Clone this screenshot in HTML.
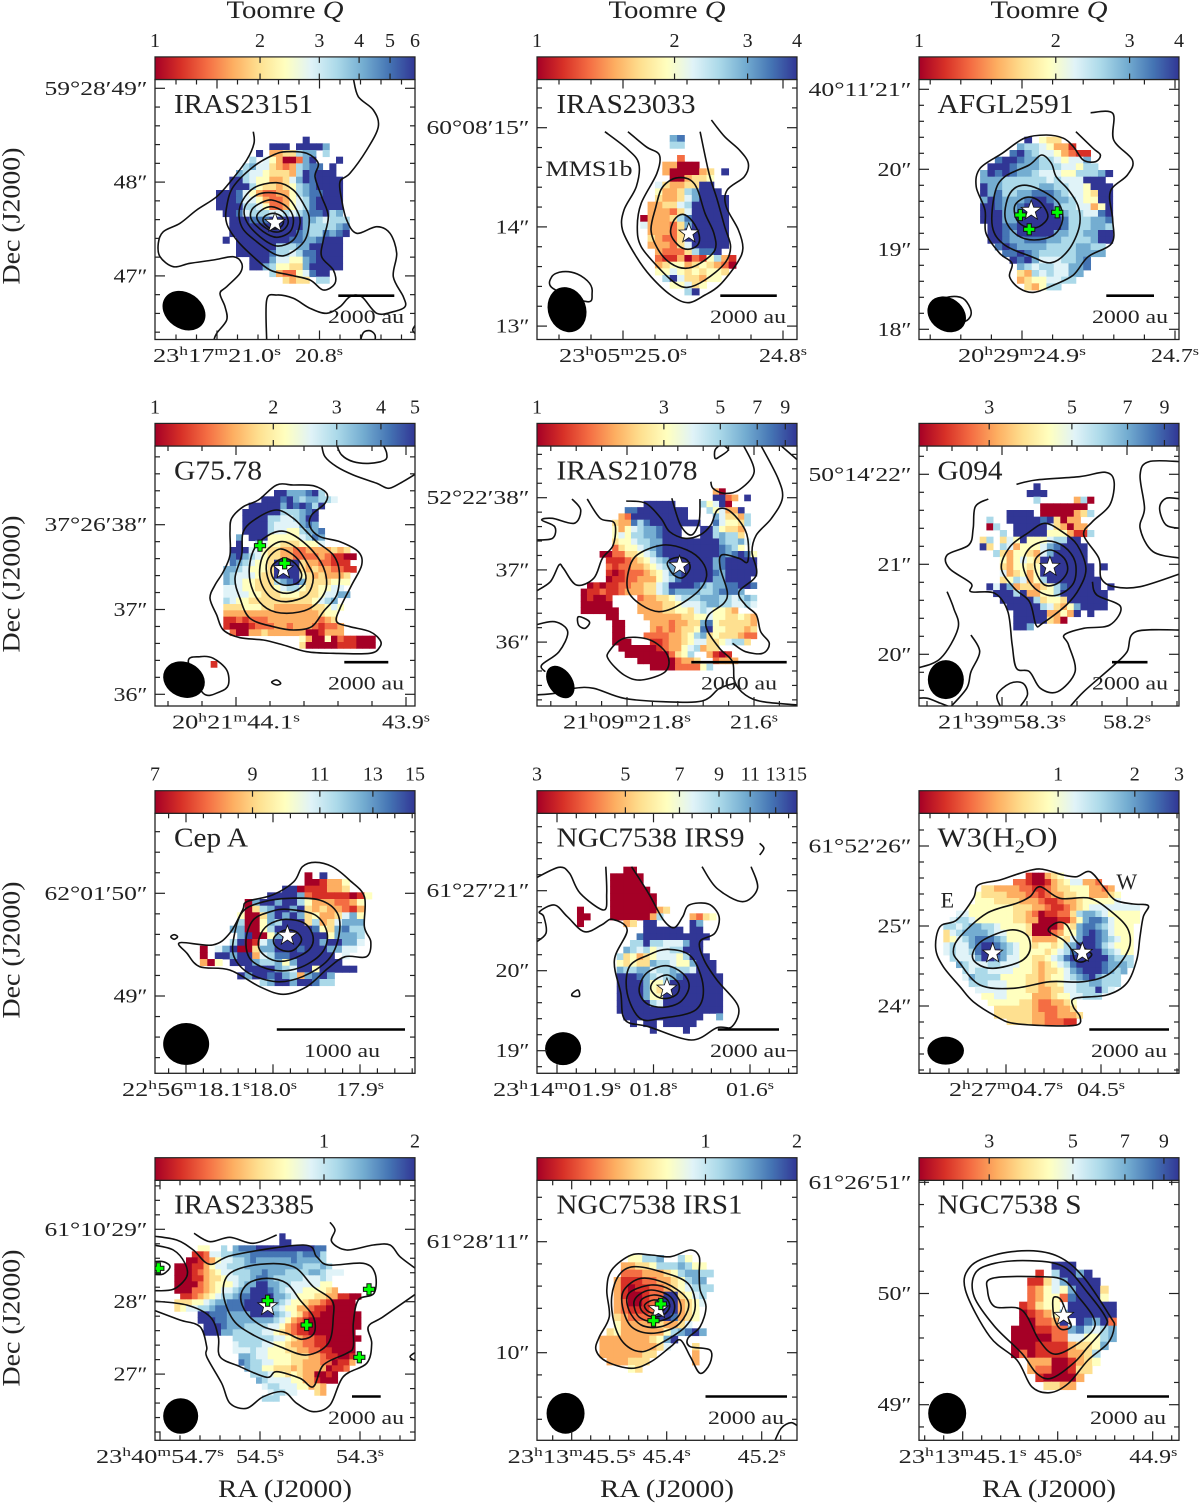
<!DOCTYPE html>
<html lang="en">
<head>
<meta charset="utf-8">
<title>Toomre Q maps</title>
<style>
html,body{margin:0;padding:0;background:#fff;}
svg{display:block;}
text{font-family:"Liberation Serif",serif;fill:#222;}
</style>
</head>
<body>
<svg id="fig" xmlns="http://www.w3.org/2000/svg" width="1200" height="1504" viewBox="0 0 1200 1504">
<defs>
<linearGradient id="rdylbu" x1="0" x2="1" y1="0" y2="0">
<stop offset="0" stop-color="#a50026"/><stop offset=".1" stop-color="#d73027"/><stop offset=".2" stop-color="#f46d43"/><stop offset=".3" stop-color="#fdae61"/><stop offset=".4" stop-color="#fee090"/><stop offset=".5" stop-color="#ffffbf"/><stop offset=".6" stop-color="#e0f3f8"/><stop offset=".7" stop-color="#abd9e9"/><stop offset=".8" stop-color="#74add1"/><stop offset=".9" stop-color="#4575b4"/><stop offset="1" stop-color="#313695"/>
</linearGradient>
</defs>
</svg>
<script>
/* Heatmap values: colour-scale level per map pixel (0=lowest Q ... 9, a=highest, .=no data) */
const iras23151Cells=[
".............a......",
"........aaa.aaaa8...",
"......a.3344788.7...",
".....7.6530028a...a.",
"....786643237899.a..",
"...8766544437a9aaa..",
"..aa765533468a9aaaa.",
"..aaa7544345789aaaa.",
"aaa9653223357899aaa.",
"aaa966532235679aaaa.",
"aaaa77652235679aaaa.",
".aa9677766767899a78.",
"..aaa999aaaaa8876777",
"..aaaaaaaaaaa8777789",
"..aaaaaaaaaa9877989a",
".a.aaaaaaaa99889aaa.",
"...aaaaaa77788aaaaa.",
"...aaaaa9776799aaaa.",
".....aaa8665589aaaa.",
".....aa8755448aaaaa.",
"........7322569aa...",
"..........4344.77..."];
const iras23033Cells=[
".....89",
".....77",
"",
"......2",
"....33000",
"....3000034.a",
".....003445",
"...643344aa",
"...533478aaa",
"...433468aaaa",
"..334467aaaaa",
"..333246aaaaa",
".03334 79aaaaa",
".633324 8aaaaa",
"..33324aaaaaa",
"..43224aaaaaa",
"..333246aaaaa",
"...32224799a",
"...21130215731",
"...34553454320",
"...5565454554",
"....7a64 4355",
".....55645",
".......7a"];
const afgl2591Cells=[
"......a.544",
".....87765331",
"....9a876653211",
"..9aa98877656 68",
".aaa988877766 577",
"8a9a988766655777 8a",
"88877777767666aaa",
"a8877777887766 5aaa",
"a89778899987665 4aa",
"8a98889aa9887655aa",
"aa9889aaaa877663 5a",
"aaa88aaaaa987766 9a",
"aaa88aaaaaa97778 89",
".aa99aaaaaa9777887",
".aa98aaaaa88778 8aa",
".aa98899988777 78aa",
"..9a9888877778877",
"...99a98777778888",
"....a9a8666778 9",
".....87677668 89",
".....43767668 8",
".....34556677",
"......43577"];
const g7578Cells=[
"........aa8889a7",
"......aaa9a878877 6",
"....aaaaa8a9a97a",
"...aaaaaa7778 9a.",
"...aaaa77667 8aa.",
"...aaaa7666689 8",
"...aaaa7665578 89",
"..8.aaa55555679 8.",
"..a..765544455 56",
".aaa665443322 3333 434",
".9a87654433222 2321100",
".9876554 aaaa 43322 111",
"88765554 aaaa 4 3433 2211",
"87666544 aaaa 5 4343 334",
"87655444 789a 84 4 4 4 5 5 5",
"66655444 5677 5 4 4 5 5 6 6",
"6666 5 5 4 4 4 5 5 5 4 4 4 5 6 6 8 8",
"7655 4 4 4 4 4 4 4 4 4 4 5 6 7 8",
"4445 5 5 4 4 3 3 3 3 3 3 4 4 5 6 5",
"3333 3 3 3 3 3 3 3 3 3 3 3 4 5 5",
"1121 2 2 2 3 3 3 3 3 3 3 3 2 3 4",
"1000 1 2 2 2 3 3 2 3 3 3 2 1 2 2 3",
".20033433333300133 3",
"............530050211000",
"............400000111000"];
const iras21078Cells=[
".....................30",
".....................aa23.a",
"..........aaaaa....756a0",
".......99aaaaaaaa...75633a",
"......32aaaaaaaaa....864437",
".....433979aaaaaaaa..965547",
".....53567889aaa...aa75443",
".....56577889aaa...aa78774",
".....45567788aaaaaaaaa87786",
".....24556789aaaaaaaaa9875",
"...0022445679aaaaaaaaa98 9a95",
"....1112345678aaaaaaa89aaaaa",
"....21223345678aaaaaa89aaaaa",
"....101222345689aaaaa98aaaaa",
"....011223335679aaaaa88aaaa",
".01011223344 67aaaa98788 99aa9",
"011211233344 6798888 7789 998",
"01001....233445 6777888 776787",
"00000....3333445666788776676",
"000000...3333445 546765 5 4 3",
"....00....33333344 5 5 6 5 5 4 4 5 4 3",
".....00....3332 3 3 4 4 8 9 5 4 4 4 4 4 3",
".....00....3232 3 4 4 5 9 a 5 5 4 4 4 3 4",
".....00...2222 3 3 4 5 7 8 4 5 4 4 4 3 2 2",
".....000...1123 3 4 5 6 6 4 4 5 6 7 7 4",
"......000000123 3 5 6 7 3 4 4",
".......0000000 2 4 5 7..3101",
".........000000 2 3 3 4..2333",
"...........0000 2 2 2 2 5 7"];
const g094Cells=[
"........a..........",
".......aaa.........",
"........7.....370..",
".........0000000...",
"....aaaa.00000347..",
".7..aaaaa9a40 33...",
".07..aaaaa64303 3..",
"...7.aaaaa555 3117.",
"47.4 65a55 5677aa..",
"a4.7 635556 89aaaa.",
"..74 355436 8aaaaa.",
"...5 35654 aaaaaaa.",
"...4 35545 aaaaaaaa.a",
"...6 34535 aaaaaaaa",
"...4 57635 7aaaaaaaa",
".a6a 83443 4579aaaaa.a",
"..aa a7a33 557aaaaaaa.",
"...a aaaa7 4554aaaaaa.",
"....a aaaa7 64358aaaa.",
".....aaaaa 3353a.a...",
".....aaaaa 430.....",
".....aa8..........."];
const cepACells=[
"..............0.a",
"..............001335",
"...........aa0111334",
".........aaaa82111110 15",
"......08aa8aa7533322 35",
"......0478aa8a434332 13",
".....50048a8a8453346 85",
".....7005 87aaa47 346888",
"....88005 7aaaaa9 548977",
".....8a005 8aaaaaa5 8887",
"....7a016 8aaaaaa8 aa886",
"0.68a004 88aaa9aaa8866",
"0.aa8aa3 6799aaaaaa.6",
"305.aaa8 7785 8aaaaaa",
"......aaaa8 76aa5aaaaa",
".....a8aa9a8 738 9a8",
"........78aa8aa977"];
const ngc7538Irs9Cells=[
"..00",
"00000",
"00000",
"000000",
"0000000",
"0000000",
"000000034",
"00000037....3245",
"..34.aa.....a8",
".....aaaaaa.aa",
"....9aaaaaaaaaa",
"...77a77666 8aa",
"..8767 5667 7aaa",
".74534 56665 7aaa",
".54544 87765 58aaa",
".87788 67787 76aaa",
".aaa98 76789 aaaaaa",
".aaaa8 557aa aaaaaa",
".aaaa8 54aaa aaaaaa",
".aaaa8 55aaa aaaaaa",
".aaaaa 76aaa aaaaaa",
".aaaaa aaaaa aaaaaa",
"..aaaa aaaaa aaa..8",
"...a.a a.aaa aa",
"......a....a"];
const w3h2oCells=[
".............100345",
"...........22100134566332",
"......443333221123445553323",
".....54444333221233445533345",
".....55544443332112334555556",
"....555555544433211234566666666",
"..66555555544320112247887655555",
".67765555554433000113589986 5555",
"776788776555540000254899876 555",
"46788887665554000235589a986555",
"45678999875555333354 68aa98 7655",
"67668 9aa987 655 4554 578aaa 97 6555",
"67667 9aaa87 655 5545 679aaaa 8765 5",
".7666 8aa986 655 4456 79aaaaaa 8777",
"..876 667 766 655 43456 79aaaa9 8887",
"...76 77666 655 5434456 89aaa9 878",
"...68 7777 55554 43455 6789a8 777",
"....777 666 555 44344 5667788777",
".....666 665 5544 33446677 7a76",
"......5566 5555 33345 56 6777",
".......55555 44 32233 45",
"........444444 32223 34",
"........444444 33223 334",
"..........4444 33222 11"];
const iras23385Cells=[
"..................a",
"..................aa",
"....55..7.8999aaaa aaaaaa99",
"...1126 67788 8999 999998999 7",
"..00123 56677 8988 88889888 87",
"00011356 677 7888 8888888 7778 7",
"00012345 667 7788 9888 7777887 666",
"00011344 566 7789 987777 7 666 76",
"00002345 556 788aa 887766 66655",
"00022345 667 88aaa 987666 555543",
".11234567 78 99aaaa 8876 555 44331100",
"44455678 89 99aaaa 887 65 54332100 00",
"45667789 99 99aaaa 876 55 33211000 00",
"....aa99 98 888aaaa 8765 42110000000",
"....aaa 9988 8888 887653 21000000000",
".....aaa 988 8777 766532 11000000000",
".....aaa 88 7777 766543 21100000000",
"..........7777 7776654 32211000000",
"..........677 7766554 33221100000",
"..........666 766555 443322110000",
"...........887 665 555 44433211001",
"...........987 766 555 44333220113",
"............877 55 4443 433330112",
".............7776 55 454 3300 10",
"..............876 6665 5331000",
"...............677 6665 53 43",
"................677 66...43",
"...............777"];
const ngc7538Irs1Cells=[
"....5577 8..75",
"...3344 57778755",
"...2223 334 5788 77",
"..31112 233 457 88",
"..3101 1223 456 777",
"..3100 12 2aa 4567",
"..3200 12 aaa 3456",
"..3211 12 aaa 345",
"..4322 22 aa9 345",
"..5333 33 433 46",
".4533 33 335 789a8",
"33333 33 458a",
"33333 33 346...4",
"33333 344.....3",
".3334 44......3",
"....54"];
const ngc7538SCells=[
".....aaa",
"...1.7aa8a",
"..11468aaaa",
"..235658aaa4",
"..235529aaa5",
".12455.aaaaaa",
".012358aaaaaa",
".00223a.a98a2",
"00011 228976 78",
"00000 226655 78",
"00011 113445 8",
"02011 11334 7",
"..33300 1345",
"..32200 144",
"...10000 3",
"....4433"];
/* Continuum contours: map-coordinate vertex lists */
const iras23151Closed=[
[860,455,920,460,955,490,945,530,965,590,985,650,970,720,965,770,1000,810,1005,850,970,870,930,840,870,825,810,810,760,770,710,720,680,670,680,620,700,560,760,500,820,465],
[830,548,880,570,915,620,928,660,915,720,870,760,830,765,770,725,725,680,720,620,760,565],
[815,578,860,590,890,630,900,670,880,720,830,738,780,710,740,665,735,620,770,585],
[815,600,860,620,880,655,870,695,830,712,790,695,755,660,755,630,780,610],
[815,620,850,635,865,665,850,690,820,695,785,675,770,650,785,630],
[820,640,845,650,850,670,835,685,810,685,790,665,795,648],
[1085,1025,1090,998,1110,992,1125,1005,1120,1025]];
const iras23151Open=[
[760,395,762,430,740,480,695,540,650,590,590,630,540,670,490,695,475,730,480,770,520,800,570,790,640,780,700,770,725,790,720,820,680,860,660,880,675,920,680,960,650,1000,640,1025],
[800,1025,800,900,830,885,880,895,930,925,980,940,1020,920,1050,890,1085,890,1130,940,1180,935,1215,920,1210,890,1180,830,1190,760,1170,700,1130,680,1070,700,1040,660,1025,600,1020,545,1050,520,1100,450,1135,380,1120,330,1075,290,1060,235],
[1250,970,1238,990,1250,1005]];
const iras23033Closed=[
[505,533,530,540,545,570,560,640,578,700,580,750,550,790,520,805,490,790,465,750,450,690,460,620,470,570,485,545],
[515,643,535,665,548,705,545,735,525,748,505,735,490,700,497,660],
[250,865,248,830,270,815,300,822,325,850,330,880,320,905]];
const iras23033Open=[
[356,395,400,445,425,490,420,560,395,630,392,690,420,770,450,830,490,885,525,908,560,885,590,855,625,790,637,745,628,690,603,620,605,570,640,530,648,490,630,450,600,410,573,360],
[403,395,440,440,467,465,462,520,430,610,422,680,430,740,470,810,500,850,525,862,560,840,600,790,612,740,600,680,585,600,568,520,550,395]];
const afgl2591Closed=[
[1245,465,1265,490,1275,530,1300,570,1320,620,1322,680,1300,750,1265,788,1225,770,1170,735,1145,680,1150,580,1170,530,1220,495],
[1215,556,1250,575,1280,610,1288,660,1270,705,1230,720,1195,705,1172,660,1175,600,1190,565],
[1225,592,1245,610,1258,650,1240,680,1215,682,1195,660,1190,620,1205,597],
[1060,890,1085,895,1100,925,1100,950,1085,965,1050,950,1040,905]];
const afgl2591Open=[
[1345,338,1390,340,1392,420,1430,480,1420,525,1385,575,1390,660,1388,730,1340,770,1310,825,1270,855,1230,877,1200,865,1180,830,1185,790,1160,760,1132,700,1130,630,1112,560,1120,505,1165,460,1210,415,1255,405,1290,415,1310,440,1330,480,1355,485,1365,465,1350,445,1315,395]];
const g7578Closed=[
[775,315,730,335,695,370,690,410,690,480,670,530,645,570,630,610,650,660,670,705,720,728,790,735,850,750,920,770,1000,775,1110,775,1140,755,1140,735,1110,710,1050,695,1010,680,1020,640,1055,570,1085,510,1075,470,1020,440,960,425,930,395,935,360,975,325,980,295,940,272,880,270,830,270],
[830,345,880,370,915,405,950,440,1000,480,1018,530,1010,600,970,650,935,695,880,705,820,695,750,670,720,610,705,550,725,480,730,410,770,370],
[830,410,880,420,940,470,975,530,975,590,930,640,860,655,800,640,760,590,748,520,770,450],
[840,440,890,460,925,510,940,550,920,600,860,620,810,605,780,550,790,480],
[840,462,880,480,905,510,918,550,900,580,860,595,820,580,800,535,805,490],
[850,490,885,505,905,540,890,565,850,570,820,550,815,515],
[565,800,600,785,640,790,680,825,685,870,660,890,610,895],
[815,862,830,855,842,865,830,870]];
const g7578Open=[
[965,150,975,185,1010,215,1060,240,1130,265,1165,280,1200,265,1250,235],
[1010,150,1025,180,1060,200,1110,205,1155,195,1160,175,1150,150]];
const iras21078Closed=[
[330,450,385,465,420,500,430,545,410,590,360,635,320,650,280,630,250,590,250,530,270,480],
[365,487,385,495,392,520,375,548,355,540,340,510,345,495],
[240,730,300,735,340,780,335,830,280,855,240,840,205,795,205,770],
[135,665,160,680,150,700,135,690],
[460,185,480,165,465,150,450,165,450,190]];
const iras21078Open=[
[245,318,290,325,325,370,345,410,380,430,415,420,440,390,455,345,480,345,510,385,525,430,525,500,505,490,465,480,462,520,478,590,470,625,435,660,430,700,460,760,490,800,495,860,520,900,560,920,640,930],
[515,150,540,230,505,285,470,295,445,280,440,260],
[555,150,595,250,605,310,580,370,545,420,535,470,545,540,505,590,520,630,545,660,555,710,575,745,560,775,520,770,490,745],
[35,435,75,430,80,395,50,375,75,370,125,385,140,345,120,312],
[155,312,185,370,218,385,215,450,190,490,170,550,130,570,100,520,90,510,70,560,35,590],
[35,690,80,680,110,710,90,770,50,810,58,830],
[350,310,370,390,395,420,413,380,415,312],
[35,900,80,895,125,880,170,880,240,910,330,920,420,918,460,880,495,865],
[600,150,640,195]];
const g094Closed=[
[1210,385,1250,410,1285,450,1305,520,1290,580,1260,630,1205,685,1190,690,1175,620,1140,580,1110,520,1130,455,1170,415],
[1215,438,1255,455,1280,500,1278,560,1250,595,1215,600,1180,570,1160,510,1175,460],
[1222,465,1255,490,1262,530,1240,565,1210,570,1190,530,1190,490]];
const g094Open=[
[1145,268,1190,255,1290,245,1350,232,1370,260,1360,330,1320,380,1300,420,1335,490,1340,550,1370,575,1430,575,1525,535],
[1080,312,1050,335,1045,400,1035,450,985,480,990,520,1040,565,1040,590,1095,595,1125,650,1135,750,1145,820,1175,830,1200,880,1240,890,1280,830,1265,750,1255,720,1300,700,1360,690,1385,635,1330,600,1320,560],
[1525,200,1450,200,1430,240,1440,340,1430,400,1460,470,1525,490],
[1525,312,1490,310,1475,340,1490,390,1525,400],
[915,820,970,790,1010,700,1000,640,985,590],
[1525,705,1420,710,1400,770,1370,810,1300,890,1265,940],
[1110,940,1100,900,1130,865,1160,865,1170,900,1150,940],
[915,910,940,910,970,925,1000,940],
[1040,720,1060,770,1040,830,1030,880,990,940]];
const cepAClosed=[
[410,307,450,320,490,360,525,410,525,500,540,545,530,590,480,590,440,625,390,680,335,703,280,680,210,630,140,620,110,580,93,548,170,555,210,520,240,450,250,425,310,405,360,365,380,320],
[350,415,420,420,462,460,465,530,440,600,380,650,320,665,255,640,220,590,220,530,240,455,290,425],
[345,448,410,465,438,520,425,580,370,625,310,630,260,600,248,540,265,480,305,455],
[340,478,385,490,405,530,395,570,350,600,310,600,280,570,280,530,300,495],
[340,510,365,515,378,540,360,570,335,572,315,555,315,530],
[72,530,80,524,88,530,80,538]];
const cepAOpen=[];
const ngc7538Irs9Closed=[
[1235,568,1290,590,1318,680,1300,750,1220,775,1170,775,1140,700,1145,620,1190,585],
[1230,617,1270,640,1285,680,1265,725,1225,742,1185,730,1168,690,1185,640],
[1235,645,1260,670,1258,700,1235,715,1210,710,1195,685,1205,660],
[1012,700,1025,690,1028,708,1012,708]];
const ngc7538Irs9Open=[
[925,355,980,322,1005,340,1030,400,1085,450,1092,400,1090,320],
[1150,320,1190,400,1225,480,1250,503,1270,470,1285,435,1330,432,1355,470,1345,520,1310,545,1320,600,1350,660,1400,740,1385,800,1350,803,1290,840,1190,800,1135,780,1125,700,1110,600,1140,510,1105,478,1080,495,1040,515,1000,470,970,435,935,455,945,470,950,520,925,548],
[1315,320,1350,385,1410,425,1445,385,1430,320],
[1450,250,1460,265,1450,285]];
const w3h2oClosed=[
[720,327,790,345,830,350,870,335,910,380,945,420,1000,432,1045,437,1030,470,1020,530,1010,600,980,670,920,705,825,715,820,740,840,770,830,795,740,797,640,790,590,770,520,725,480,680,430,620,407,565,420,500,470,480,520,415,535,375,600,360,660,340],
[720,380,780,415,870,415,940,460,985,510,985,570,930,640,850,665,750,665,640,685,540,675,480,610,460,575,480,530,560,460,650,430,690,410],
[630,510,680,525,690,570,660,605,580,625,530,610,518,580,550,540],
[770,488,800,495,825,540,860,570,875,585,850,605,825,600,815,570,790,540,745,512]];
const w3h2oOpen=[];
const iras23385Closed=[
[780,403,880,410,940,470,995,510,1000,560,985,640,920,675,840,650,760,615,700,570,670,490,690,430],
[800,445,860,460,900,510,940,560,942,610,905,628,860,610,790,590,740,550,722,500,745,460]];
const iras23385Open=[
[582,310,630,335,690,322,760,340,830,315],
[990,277,1005,300,995,335,1040,360,1120,345,1170,345,1200,380,1250,418],
[460,318,530,330,580,360,630,403,700,375,910,345,950,380,985,405,1090,400,1125,430,1122,490,1075,510,1060,580,1060,650,1040,670,970,705,940,770,900,745,830,725,800,742,720,710,660,680,655,620,630,560,560,525,460,513],
[460,540,540,570,600,590,620,650,620,680,665,760,690,820,740,835,790,800,850,785,890,820,940,845,990,825,1030,740,1100,700,1115,640,1105,590,1150,560,1250,490],
[460,345,520,360,555,400,560,440,520,478,460,482],
[460,395,490,395,510,410,490,432,460,433],
[1250,665,1230,680,1250,695]];
const ngc7538Irs1Closed=[
[410,375,450,375,490,380,530,360,548,380,548,430,550,480,562,530,550,590,525,625,530,650,570,660,570,700,550,730,530,680,510,630,490,650,450,695,410,715,360,695,338,660,345,620,365,560,360,480,370,420],
[415,410,470,425,525,460,540,530,520,590,470,640,430,665,395,640,375,580,370,500,385,435],
[430,445,480,460,520,500,525,540,500,590,450,610,410,590,392,530,395,480],
[450,465,490,480,510,520,505,560,470,590,430,585,405,540,405,490],
[450,480,485,495,498,525,490,560,455,575,425,560,415,520,425,495],
[455,495,480,505,488,530,475,555,450,560,430,540,430,510],
[455,510,475,518,478,535,465,550,445,545,437,525]];
const ngc7538Irs1Open=[
[700,940,715,895,735,878,750,890]];
const ngc7538SClosed=[
[1220,362,1280,380,1330,440,1385,560,1393,590,1380,640,1340,690,1300,760,1262,788,1225,770,1195,690,1140,620,1090,480,1100,410,1150,375],
[1220,392,1290,410,1340,490,1375,560,1375,590,1340,650,1310,700,1265,745,1235,730,1205,670,1150,590,1108,500,1110,430,1150,400],
[1240,440,1290,450,1320,500,1350,560,1350,600,1310,650,1270,672,1240,630,1205,540,1150,530,1135,480,1145,445],
[1270,502,1285,510,1298,560,1305,590,1285,598,1272,570,1268,530]];
const ngc7538SOpen=[];
/* Colour-bar tick labels and their fractional positions along each bar */
const cbarValues1=[1,2,3,4,5,6];      const cbarFrac1=[0,.404,.632,.785,.904,1];
const cbarValues2=[1,2,3,4];          const cbarFrac2=[0,.529,.81,1];
const cbarValues3=[1,2,3,4];          const cbarFrac3=[0,.526,.81,1];
const cbarValues4=[1,2,3,4,5];        const cbarFrac4=[0,.455,.699,.869,1];
const cbarValues5=[1,3,5,7,9];        const cbarFrac5=[0,.488,.705,.847,.955];
const cbarValues6=[3,5,7,9];          const cbarFrac6=[.27,.588,.802,.944];
const cbarValues7=[7,9,11,13,15];     const cbarFrac7=[0,.375,.634,.838,1];
const cbarValues8=[3,5,7,9,11,13,15]; const cbarFrac8=[0,.34,.548,.7,.82,.918,1];
const cbarValues9=[1,2,3];            const cbarFrac9=[.535,.83,1];
const cbarValues10=[1,2];             const cbarFrac10=[.65,1];
const cbarValues11=[1,2];             const cbarFrac11=[.648,1];
const cbarValues12=[3,5,7,9];         const cbarFrac12=[.27,.592,.792,.942];
/* Axis tick values / labels */
const raValues1=[21.0,20.8];       const raLabels1=["23^h17^m21.0^s","20.8^s"];
const raValues2=[25.0,24.8];       const raLabels2=["23^h05^m25.0^s","24.8^s"];
const raValues3=[24.9,24.7];       const raLabels3=["20^h29^m24.9^s","24.7^s"];
const raValues4=[44.1,43.9];       const raLabels4=["20^h21^m44.1^s","43.9^s"];
const raValues5=[21.8,21.6];       const raLabels5=["21^h09^m21.8^s","21.6^s"];
const raValues6=[58.3,58.2];       const raLabels6=["21^h39^m58.3^s","58.2^s"];
const raValues7=[18.1,18.0,17.9];  const raLabels7=["22^h56^m18.1^s","18.0^s","17.9^s"];
const raValues8=[1.9,1.8,1.7];     const raLabels8=["23^h14^m01.9^s","01.8^s","01.6^s"];
const raValues9=[4.7,4.5];         const raLabels9=["2^h27^m04.7^s","04.5^s"];
const raValues10=[54.7,54.5,54.3]; const raLabels10=["23^h40^m54.7^s","54.5^s","54.3^s"];
const raValues11=[45.5,45.4,45.3]; const raLabels11=["23^h13^m45.5^s","45.4^s","45.2^s"];
const raValues12=[45.1,45.0,44.9]; const raLabels12=["23^h13^m45.1^s","45.0^s","44.9^s"];
const decValues1=[49,48,47];   const decLabels1=["59°28′49″","48″","47″"];
const decValues2=[15,14,13];   const decLabels2=["60°08′15″","14″","13″"];
const decValues3=[21,20,19,18];const decLabels3=["40°11′21″","20″","19″","18″"];
const decValues4=[38,37,36];   const decLabels4=["37°26′38″","37″","36″"];
const decValues5=[38,37,36];   const decLabels5=["52°22′38″","37″","36″"];
const decValues6=[22,21,20];   const decLabels6=["50°14′22″","21″","20″"];
const decValues7=[50,49];      const decLabels7=["62°01′50″","49″"];
const decValues8=[21,20,19];   const decLabels8=["61°27′21″","20″","19″"];
const decValues9=[26,25,24];   const decLabels9=["61°52′26″","25″","24″"];
const decValues10=[29,28,27];  const decLabels10=["61°10′29″","28″","27″"];
const decValues11=[11,10];     const decLabels11=["61°28′11″","10″"];
const decValues12=[51,50,49];  const decLabels12=["61°26′51″","50″","49″"];

const COLS=[155,537,919];
const ROWS=[79.5,446,813.3,1180.3];
const W=260, H=260;
const RAMP=['#a50026','#d73027','#f46d43','#fdae61','#fee090','#ffffbf','#e0f3f8','#abd9e9','#74add1','#4575b4','#313695'];
function colorScale(v){return RAMP[Math.max(0,Math.min(10,Math.round(v)))];}

const panels=[
{name:"IRAS23151",nw:139,col:0,row:0,crop:[0,0,3],grid:[648,410,20,20],cells:iras23151Cells,closed:iras23151Closed,open:iras23151Open,stars:[[825,668]],plus:[],beam:[552,932,23,18,35],bar:[338.3,394.3,366],barLabel:"2000 au",cv:cbarValues1,cf:cbarFrac1,rv:raValues1,rl:raLabels1,ra:[217,510,20.5],dv:decValues1,dl:decLabels1,dec:[88.3,93.8]},
{name:"IRAS23033",nw:139,col:1,row:0,crop:[430,0,2.036],grid:[413,405,15,20],cells:iras23033Cells,closed:iras23033Closed,open:iras23033Open,stars:[[527,700]],plus:[],beam:[279,929,23,19,70],bar:[720.3,776.8,748],barLabel:"2000 au",cv:cbarValues2,cf:cbarFrac2,rv:raValues2,rl:raLabels2,ra:[623,800,32],dv:decValues2,dl:decLabels2,dec:[127.7,99.2]},
{name:"AFGL2591",nw:136,col:2,row:0,crop:[430,0,2.036],grid:[1120,410,15,20],cells:afgl2591Cells,closed:afgl2591Closed,open:afgl2591Open,stars:[[1224,632]],plus:[[1202,645],[1277,637],[1220,688]],beam:[1052,943,20.5,16.5,35],bar:[1106.3,1154,1130],barLabel:"2000 au",cv:cbarValues3,cf:cbarFrac3,rv:raValues3,rl:raLabels3,ra:[1022,765,30.6],dv:decValues3,dl:decLabels3,dec:[89.3,80]},
{name:"G75.78",nw:88,col:0,row:1,crop:[0,395,3],grid:[670,285,19,19],cells:g7578Cells,strays:[[-2,27,1]],closed:g7578Closed,open:g7578Open,stars:[[850,522]],plus:[[780,452],[854,505]],beam:[552,854,21.5,17.5,25],bar:[344.3,388.3,366],barLabel:"2000 au",cv:cbarValues4,cf:cbarFrac4,rv:raValues4,rl:raLabels4,ra:[236,850,34],dv:decValues4,dl:decLabels4,dec:[524.7,84.8]},
{name:"IRAS21078",nw:141,col:1,row:1,crop:[520,395,2.306],grid:[140,280,14.5,18.8],cells:iras21078Cells,closed:iras21078Closed,open:iras21078Open,stars:[[368,512]],plus:[],beam:[93,861,18,12,55],bar:[691.3,786.7,739],barLabel:"2000 au",cv:cbarValues5,cf:cbarFrac5,rv:raValues5,rl:raLabels5,ra:[627,635,25.4],dv:decValues5,dl:decLabels5,dec:[497.7,72.2]},
{name:"G094",nw:65,col:2,row:1,crop:[520,395,2.306],grid:[1060,265,15.5,20],cells:g094Cells,closed:g094Closed,open:g094Open,stars:[[1222,515]],plus:[],beam:[982,854,19.5,18,90],bar:[1112,1147.5,1130],barLabel:"2000 au",cv:cbarValues6,cf:cbarFrac6,rv:raValues6,rl:raLabels6,ra:[1002,1250,25],dv:decValues6,dl:decLabels6,dec:[474.3,90]},
{name:"Cep A",nw:74,col:0,row:2,crop:[140,760,2.34],grid:[140,337,17.5,20],cells:cepACells,closed:cepAClosed,open:cepAOpen,stars:[[345,527]],plus:[],beam:[108,852,23,21,0],bar:[276.8,405,342],barLabel:"1000 au",cv:cbarValues7,cf:cbarFrac7,rv:raValues7,rl:raLabels7,ra:[186,870,17.4],dv:decValues7,dl:decLabels7,dec:[893.3,102.7]},
{name:"NGC7538 IRS9",nw:188,col:1,row:2,crop:[140,760,2.34],grid:[1100,320,15.5,20],cells:ngc7538Irs9Cells,strays:[[-5,6,0],[-5,7,0],[-4,7,0],[-5,8,0]],closed:ngc7538Irs9Closed,open:ngc7538Irs9Open,stars:[[1233,685]],plus:[],beam:[990,866,18,16.5,0],bar:[717.8,779,748],barLabel:"2000 au",cv:cbarValues8,cf:cbarFrac8,rv:raValues8,rl:raLabels8,ra:[557,965,19.3],dv:decValues8,dl:decLabels8,dec:[890.7,80]},
{name:"W3(H^2O)",nw:120,col:2,row:2,crop:[800,760,3],grid:[430,338,19,19],cells:w3h2oCells,closed:w3h2oClosed,open:w3h2oOpen,stars:[[578,580],[847,578]],plus:[],beam:[437,872,18.3,14,0],bar:[1089.3,1169,1129],barLabel:"2000 au",cv:cbarValues9,cf:cbarFrac9,rv:raValues9,rl:raLabels9,ra:[1006,475,19],dv:decValues9,dl:decLabels9,dec:[846,80]},
{name:"IRAS23385",nw:140,col:0,row:3,crop:[0,1130,3],grid:[523,310,17.5,18],cells:iras23385Cells,closed:iras23385Closed,open:iras23385Open,stars:[[803,528]],plus:[[475,415],[803,512],[1107,478],[920,585],[1078,682]],beam:[542,858,17.5,17.8,0],bar:[352,380.7,366],barLabel:"2000 au",cv:cbarValues10,cf:cbarFrac10,rv:raValues10,rl:raLabels10,ra:[160,500,20],dv:decValues10,dl:decLabels10,dec:[1229.3,72.4]},
{name:"NGC7538 IRS1",nw:186,col:1,row:3,crop:[430,1130,2.036],grid:[345,375,14.5,22],cells:ngc7538Irs1Cells,closed:ngc7538Irs1Closed,open:ngc7538Irs1Open,stars:[[465,537]],plus:[[470,522],[455,572]],beam:[276,850,20.4,19,90],bar:[705.5,787,746],barLabel:"2000 au",cv:cbarValues11,cf:cbarFrac11,rv:raValues11,rl:raLabels11,ra:[571.7,950,19],dv:decValues11,dl:decLabels11,dec:[1241.7,111]},
{name:"NGC7538 S",nw:144,col:2,row:3,crop:[430,1130,2.036],grid:[1183,395,16.5,24],cells:ngc7538SCells,closed:ngc7538SClosed,open:ngc7538SOpen,stars:[[1290,557]],plus:[],beam:[1053,850,20.4,19,90],bar:[1087,1169,1128],barLabel:"2000 au",cv:cbarValues12,cf:cbarFrac12,rv:raValues12,rl:raLabels12,ra:[962.7,953,19],dv:decValues12,dl:decLabels12,dec:[1182.3,111.2]}
];
const NS="http://www.w3.org/2000/svg";
const fig=document.getElementById('fig');
function mk(tag,parent){const e=document.createElementNS(NS,tag);parent.appendChild(e);return e;}
function set(e,o){for(const k in o)e.setAttribute(k,o[k]);return e;}
function smooth(pts,closed){
  const P=[];for(let i=0;i<pts.length;i+=2)P.push([pts[i],pts[i+1]]);
  const n=P.length;let d="M"+P[0][0].toFixed(1)+" "+P[0][1].toFixed(1);
  const g=i=>closed?P[(i+n)%n]:P[Math.max(0,Math.min(n-1,i))];
  const m=closed?n:n-1;
  for(let i=0;i<m;i++){
    const a=g(i-1),b=g(i),c=g(i+1),e=g(i+2);
    d+=" C"+(b[0]+(c[0]-a[0])/6).toFixed(1)+" "+(b[1]+(c[1]-a[1])/6).toFixed(1)+" "+(c[0]-(e[0]-b[0])/6).toFixed(1)+" "+(c[1]-(e[1]-b[1])/6).toFixed(1)+" "+c[0].toFixed(1)+" "+c[1].toFixed(1);
  }
  return d+(closed?"Z":"");
}
/* Writes "23^h17^m" strings as baseline text with raised parts (sub-scripts use the H^2O form) */
function fillRich(t,str,size,sub){
  const parts=str.split('^');
  parts.forEach((s,i)=>{
    if(i===0){t.appendChild(document.createTextNode(s));return;}
    const shift=sub?Math.round(size*.22):-Math.round(size*.36);
    const sup=mk('tspan',t);
    set(sup,{dy:shift,'font-size':Math.round(size*.66)});
    sup.textContent=s[0];
    const rest=mk('tspan',t);
    set(rest,{dy:-shift});
    rest.textContent=s.slice(1)||'\u200b';
  });
}
function label(parent,name,str,x,y,size,anchor,len,sub){
  const t=mk('text',parent);
  
  
  set(t,{x:x,y:y,'font-size':size,'text-anchor':anchor||'middle'});
  if(len)set(t,{textLength:len,lengthAdjust:'spacingAndGlyphs'});
  fillRich(t,str,size,sub);
  return t;
}
function starPath(cx,cy,R,r){
  let d="";
  for(let i=0;i<10;i++){
    const a=-Math.PI/2+i*Math.PI/5,q=i%2?r:R;
    d+=(i?"L":"M")+(cx+q*Math.cos(a)).toFixed(1)+" "+(cy+q*Math.sin(a)).toFixed(1);
  }
  return d+"Z";
}
function plusPath(x,y,a,b){
  return "M"+(x-b)+" "+(y-a)+"H"+(x+b)+"V"+(y-b)+"H"+(x+a)+"V"+(y+b)+"H"+(x+b)+"V"+(y+a)+"H"+(x-b)+"V"+(y+b)+"H"+(x-a)+"V"+(y-b)+"H"+(x-b)+"Z";
}
function tick(parent,name,x1,y1,x2,y2,w){
  const l=mk('line',parent);
  
  
  set(l,{x1:x1,y1:y1,x2:x2,y2:y2,stroke:'#222','stroke-width':w||1.2});
}
panels.forEach((p,idx)=>{
  const fx=COLS[p.col],fy=ROWS[p.row];
  const [ox,oy,sx]=p.crop;
  const mapX=u=>ox+u/sx, mapY=v=>oy+v/3;
  const ra=s=>p.ra[0]+(p.rv[0]-s)*p.ra[1];
  const dec=s=>p.dec[0]+(p.dv[0]-s)*p.dec[1];
  const cb=f=>fx+f*W;

  const g=mk('g',fig);
  
  

  const clip=mk('clipPath',g);
  clip.id='clip'+idx;
  set(mk('rect',clip),{x:fx,y:fy,width:W,height:H});
  const inner=mk('g',g);
  
  
  inner.setAttribute('clip-path','url(#clip'+idx+')');

  /* heat cells */
  const [gx,gy,cw,ch]=p.grid;
  const drawCell=(c,r,v)=>{
    const x=mapX(gx+c*cw),y=mapY(gy+r*ch);
    const q=mk('rect',inner);
    
    
    set(q,{x:x.toFixed(2),y:y.toFixed(2),width:(cw/sx+.4).toFixed(2),height:(ch/3+.4).toFixed(2),fill:colorScale(v)});
  };
  p.cells.forEach((row,r)=>{
    const s=row.replace(/ /g,'');
    for(let c=0;c<s.length;c++){
      if(s[c]==='.')continue;
      drawCell(c,r,parseInt(s[c],16));
    }
  });
  (p.strays||[]).forEach(q=>drawCell(q[0],q[1],q[2]));

  /* contours */
  const drawContour=(pts,closed)=>{
    const mapped=pts.map((v,i)=>i%2?mapY(v):mapX(v));
    const c=mk('path',inner);
    
    
    set(c,{d:smooth(mapped,closed),fill:'none',stroke:'#111','stroke-width':1.6,'stroke-linejoin':'round'});
  };
  p.closed.forEach(c=>drawContour(c,true));
  p.open.forEach(c=>drawContour(c,false));

  /* beam */
  const bx=mapX(p.beam[0]),by=mapY(p.beam[1]);
  const beam=mk('ellipse',inner);
  
  
  set(beam,{cx:bx,cy:by,rx:p.beam[2],ry:p.beam[3],fill:'#000',transform:'rotate('+p.beam[4]+' '+bx+' '+by+')'});

  /* stars and plus markers */
  p.stars.forEach(s=>{
    const st=mk('path',inner);
    
    
    set(st,{d:starPath(mapX(s[0]),mapY(s[1]),10.5,4.3),fill:'#fff',stroke:'#111','stroke-width':.8});
  });
  p.plus.forEach(s=>{
    const m=mk('path',inner);
    
    
    set(m,{d:plusPath(mapX(s[0]),mapY(s[1]),5.6,2.1),fill:'#00ff00',stroke:'#111','stroke-width':1});
  });

  /* scale bar */
  const barY=fy+216.2;
  const sb=mk('line',g);
  
  
  set(sb,{x1:p.bar[0],x2:p.bar[1],y1:barY,y2:barY,stroke:'#000','stroke-width':2.6});
  label(g,'scale-bar-label',p.barLabel,p.bar[2],fy+243.5,19,'middle',76);

  /* name */
  label(g,'source-name',p.name,fx+(p.col===0?19:p.col===1?19.5:18.5),fy+33.4,27,'start',p.nw,true);

  /* frame */
  const fr=mk('rect',g);
  
  
  set(fr,{x:fx,y:fy,width:W,height:H,fill:'none',stroke:'#222','stroke-width':1.3});

  /* RA ticks */
  const stepX=p.ra[2];
  for(let k=-20;k<=20;k++){
    const x=ra(p.rv[0])+k*stepX;
    if(x<fx+1||x>fx+W-1)continue;
    const major=(k%5===0);
    const L=major?9:5;
    tick(g,'ra-tick-bottom',x,fy+H,x,fy+H-L);
    tick(g,'ra-tick-top',x,fy,x,fy+L);
  }
  p.rv.forEach((s,i)=>{
    const wide=p.rl[i].length>8;
    const w=p.col===0&&p.row===2&&i===0?128:(p.rl[i].startsWith('2^')?114:(wide?128:48));
    label(g,'ra-tick-label',p.rl[i],ra(s),fy+H+22.5,19.5,'middle',w);
  });

  /* Dec ticks */
  const stepY=p.dec[1]/5;
  for(let k=-20;k<=25;k++){
    const y=dec(p.dv[0])+k*stepY;
    if(y<fy+1||y>fy+H-1)continue;
    const major=(k%5===0);
    const L=major?10:5;
    tick(g,'dec-tick-left',fx,y,fx+L,y);
    tick(g,'dec-tick-right',fx+W,y,fx+W-L,y);
  }
  p.dv.forEach((s,i)=>{
    label(g,'dec-tick-label',p.dl[i],fx-7.5,dec(s)+6.5,19.5,'end',i===0?103:34);
  });

  /* colour bar */
  const cy=fy-22.6, chh=22.6;
  const bar=mk('rect',g);
  
  
  set(bar,{x:fx,y:cy,width:W,height:chh,fill:'url(#rdylbu)',stroke:'#222','stroke-width':1.2});
  p.cv.forEach((v,i)=>{
    const x=cb(p.cf[i]);
    if(x>fx+1&&x<fx+W-1){
      tick(g,'colorbar-tick',x,cy,x,cy+6);
      tick(g,'colorbar-tick',x,cy+chh,x,cy+chh-6);
    }
    label(g,'colorbar-tick-label',String(v),x,cy-10,20,'middle');
  });
});

/* column titles and shared axis titles */
const titleCenters=[285,667,1049];
titleCenters.forEach(c=>{
  const t=mk('text',fig);
  
  
  set(t,{x:c,y:18,'font-size':25,'text-anchor':'middle',textLength:117,lengthAdjust:'spacingAndGlyphs'});
  t.appendChild(document.createTextNode('Toomre '));
  const q=mk('tspan',t);
  q.setAttribute('font-style','italic');
  q.textContent='Q';
  label(fig,'x-axis-title','RA (J2000)',c,1497,25,'middle',134);
});
const decTitleY=[216,584,950,1318];
decTitleY.forEach(y=>{
  const t=label(fig,'y-axis-title','Dec (J2000)',0,0,25,'middle',137);
  t.setAttribute('transform','translate(19.5 '+y+') rotate(-90)');
});
label(fig,'component-label-mms1b','MMS1b',589,176,22.5,'middle',87);
label(fig,'component-label-e','E',947.3,907.7,22,'middle');
label(fig,'component-label-w','W',1126.7,889,22,'middle');
</script>
</body>
</html>
